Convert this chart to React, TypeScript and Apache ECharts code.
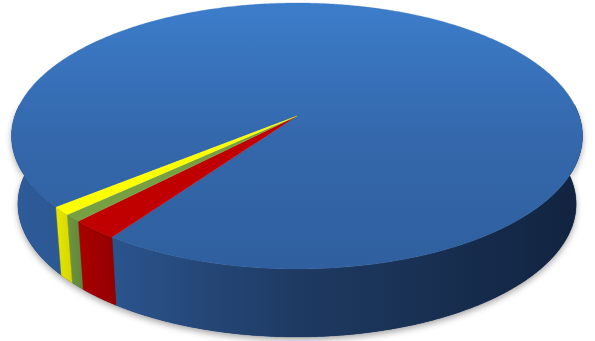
import React, { useEffect, useRef } from "react";
import * as echarts from "echarts";

// ---- data ----
const categories = ["Blue", "Red", "Green", "Yellow"];
const values = [95.7, 2.4, 0.9, 1.0];
const topColors = ["#3676c0", "#c00000", "#77a043", "#ffff00"];
const sideColors = [
  ["#2e5c9a", "#2a528a", "#1e3a62", "#11233f"],
  ["#aa0000", "#930000"],
  ["#6f9642", "#608537"],
  ["#e6e600", "#d6d600"],
];

// ---- geometry (perspective pie) ----
const CX = 297;
const A = 282.2; // horizontal radius factor
const B = 112.55;
const D = 116; // apex y
const C = -0.1504; // perspective factor
const DEPTH = 68;
const BOTTOM_SHRINK = 0.978;
const START_DEG = 140.58;

function proj(tDeg: number, bottom = false): number[] {
  const t = (tDeg * Math.PI) / 180;
  const u = Math.cos(t);
  const v = Math.sin(t);
  const den = 1 + C * v;
  const x = CX + (A * u) / den;
  const y = (B * v + D) / den;
  if (!bottom) return [x, y];
  return [CX + (x - CX) * BOTTOM_SHRINK, y + DEPTH];
}

function arc(a: number, b: number, bottom = false): number[][] {
  const n = Math.max(2, Math.ceil(Math.abs(b - a) / 0.5));
  const pts: number[][] = [];
  for (let k = 0; k <= n; k++) pts.push(proj(a + ((b - a) * k) / n, bottom));
  return pts;
}

function wallPolygon(a: number, b: number): number[][] {
  return arc(a, b, false).concat(arc(b, a, true));
}

export default function App() {
  const ref = useRef<HTMLDivElement>(null);
  useEffect(() => {
    document.body.style.margin = "0";
    if (!ref.current) return;
    const chart = echarts.init(ref.current, undefined, { renderer: "svg" });
    const total = values.reduce((s, x) => s + x, 0);

    const option: any = {
      animation: false,
      backgroundColor: "#ffffff",
      series: [
        {
          type: "custom",
          coordinateSystem: "none",
          data: values.map((v, i) => ({ name: categories[i], value: [i, v] })),
          renderItem: (params: any, api: any) => {
            const i = params.dataIndex;
            let before = 0;
            for (let k = 0; k < i; k++) before += values[k];
            const val = api.value(1) as number;
            const t1 = START_DEG + (before / total) * 360;
            const t2 = START_DEG + ((before + val) / total) * 360;
            const children: any[] = [];

            if (i === 0) {
              children.push({
                type: "polygon",
                z2: 0,
                shape: { points: wallPolygon(-5, 185) },
                style: {
                  fill: "#1a2f50",
                  shadowBlur: 6,
                  shadowColor: "rgba(0,0,0,0.35)",
                  shadowOffsetY: 3,
                },
              });
            }

            const sc = sideColors[i];
            const wallFill =
              i === 0
                ? {
                    type: "linear",
                    x: 12,
                    y: 0,
                    x2: 583,
                    y2: 0,
                    global: true,
                    colorStops: [
                      { offset: 0, color: sc[0] },
                      { offset: 0.2, color: sc[1] },
                      { offset: 0.5, color: sc[2] },
                      { offset: 1, color: sc[3] },
                    ],
                  }
                : {
                    type: "linear",
                    x: 0,
                    y: 0,
                    x2: 1,
                    y2: 0,
                    colorStops: [
                      { offset: 0, color: sc[0] },
                      { offset: 1, color: sc[1] },
                    ],
                  };

            for (let k = -1; k <= 2; k++) {
              const lo = Math.max(t1, k * 360 - 5);
              const hi = Math.min(t2, k * 360 + 185);
              if (hi > lo) {
                children.push({
                  type: "polygon",
                  z2: 1,
                  shape: { points: wallPolygon(lo, hi) },
                  style: { fill: wallFill, stroke: wallFill, lineWidth: 0.3 },
                });
              }
            }

            const topFill =
              i === 0
                ? {
                    type: "linear",
                    x: 0,
                    y: 3,
                    x2: 0,
                    y2: 269,
                    global: true,
                    colorStops: [
                      { offset: 0, color: "#3c7dca" },
                      { offset: 0.5, color: "#3468ac" },
                      { offset: 1, color: "#2f5f9e" },
                    ],
                  }
                : topColors[i];
            const topPts: number[][] = [[CX, D]];
            children.push({
              type: "polygon",
              z2: 10,
              shape: { points: topPts.concat(arc(t1, t2, false)) },
              style: { fill: topFill, stroke: topFill, lineWidth: 0.3 },
            });

            return { type: "group", children };
          },
        },
      ],
    };
    chart.setOption(option);
    return () => chart.dispose();
  }, []);

  return <div ref={ref} style={{ width: 595, height: 341 }} />;
}
